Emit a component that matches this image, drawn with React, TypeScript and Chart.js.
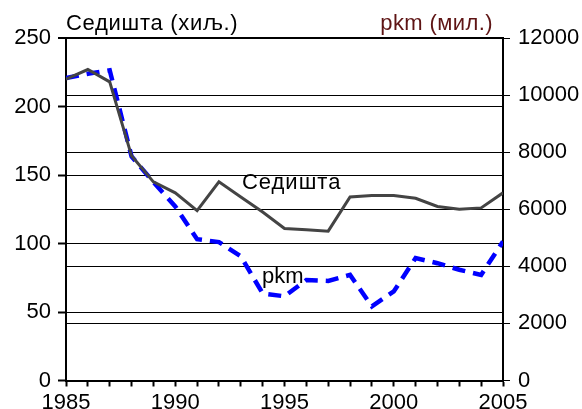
import React, { useEffect, useRef } from "react";
import { Chart, registerables } from "chart.js";

Chart.register(...registerables);

const years = [1985, 1986, 1987, 1988, 1989, 1990, 1991, 1992, 1993, 1994, 1995, 1996, 1997, 1998, 1999, 2000, 2001, 2002, 2003, 2004, 2005];
const seats = [220, 227, 218, 164, 145, 137, 124, 145, 134, 123, 111, 110, 109, 134, 135, 135, 133, 127, 125, 126, 137];
const pkm = [10600, 10750, 10870, 7850, 6950, 6100, 4950, 4850, 4350, 3050, 2950, 3520, 3490, 3700, 2600, 3120, 4290, 4110, 3880, 3700, 4870];

const leftTitle = "Седишта (хиљ.)";
const rightTitle = "pkm (мил.)";
const seatsLabel = "Седишта";
const pkmLabel = "pkm";

const FONT = "'Liberation Sans', Arial, sans-serif";

const labelsPlugin = {
  id: "customLabels",
  afterDatasetsDraw(chart: any) {
    const { ctx, chartArea, scales } = chart;
    ctx.save();
    ctx.font = `22px ${FONT}`;
    ctx.textBaseline = "alphabetic";
    // titles
    ctx.fillStyle = "#000";
    ctx.textAlign = "left";
    (ctx as any).letterSpacing = "0.7px";
    ctx.fillText(leftTitle, chartArea.left, chartArea.top - 8);
    ctx.fillStyle = "#5e1414";
    (ctx as any).letterSpacing = "0.4px";
    ctx.textAlign = "right";
    ctx.fillText(rightTitle, chartArea.right - 10, chartArea.top - 8);
    // in-chart series labels
    ctx.fillStyle = "#000";
    ctx.textAlign = "left";
    ctx.textBaseline = "middle";
    (ctx as any).letterSpacing = "1px";
    ctx.fillText(seatsLabel, scales.x.getPixelForValue(1993.05), scales.yL.getPixelForValue(144));
    (ctx as any).letterSpacing = "0px";
    ctx.textBaseline = "alphabetic";
    ctx.fillText(pkmLabel, scales.x.getPixelForValue(1993.97), scales.yR.getPixelForValue(3421));
    ctx.restore();
  },
};

export default function App() {
  const ref = useRef<HTMLCanvasElement | null>(null);
  useEffect(() => {
    document.body.style.margin = "0";
    const canvas = ref.current!;
    const chart = new Chart(canvas, {
      type: "line",
      data: {
        datasets: [
          {
            label: seatsLabel,
            data: years.map((y, i) => ({ x: y, y: seats[i] })),
            yAxisID: "yL",
            borderColor: "#444444",
            borderWidth: 3,
            pointRadius: 0,
            tension: 0,
            fill: false,
          },
          {
            label: pkmLabel,
            data: years.map((y, i) => ({ x: y, y: pkm[i] })),
            yAxisID: "yR",
            borderColor: "#0000ff",
            borderWidth: 4.5,
            borderDash: [13, 8],
            pointRadius: 0,
            tension: 0,
            fill: false,
          },
        ],
      },
      options: {
        responsive: false,
        animation: false,
        devicePixelRatio: 1,
        layout: { padding: { top: 38, left: 0, right: 0, bottom: 0 } },
        plugins: { legend: { display: false }, tooltip: { enabled: false }, title: { display: false } },
        scales: {
          x: {
            type: "linear",
            min: 1985,
            max: 2005,
            afterFit: (s: any) => { s.height = 28.5; },
            ticks: {
              stepSize: 1,
              autoSkip: false,
              maxRotation: 0,
              padding: 3,
              color: "#000",
              font: { family: FONT, size: 22 },
              callback: (v: any) => (Number(v) % 5 === 0 ? String(v) : ""),
            },
            grid: { drawOnChartArea: false, drawTicks: true, tickLength: 6, tickWidth: 2, tickColor: "#000", color: "#000" },
            border: { display: true, color: "#000", width: 2 },
          },
          yL: {
            type: "linear",
            position: "left",
            min: 0,
            max: 250,
            afterFit: (s: any) => { s.width = 66; },
            ticks: { stepSize: 50, padding: 7, color: "#000", font: { family: FONT, size: 22 }, callback: (v: any) => String(v) },
            grid: {
              color: "#000",
              lineWidth: (c: any) => (c.tick && c.tick.value === 250 ? 2 : 1),
              drawTicks: true,
              tickLength: 8,
              tickWidth: 2,
              tickColor: "#000",
            },
            border: { display: true, color: "#000", width: 2 },
          },
          yR: {
            type: "linear",
            position: "right",
            min: 0,
            max: 12000,
            afterFit: (s: any) => { s.width = 79; },
            ticks: { stepSize: 2000, padding: 8, color: "#000", font: { family: FONT, size: 22 }, callback: (v: any) => String(v) },
            grid: { color: "#000", lineWidth: 1, drawTicks: true, tickLength: 7, tickWidth: 1, tickColor: "#000" },
            border: { display: true, color: "#000", width: 2 },
          },
        },
      } as any,
      plugins: [labelsPlugin],
    });
    return () => chart.destroy();
  }, []);
  return (
    <div style={{ position: "fixed", left: 0, top: 0, width: 582, height: 409, background: "#fff" }}>
      <canvas ref={ref} width={582} height={409} style={{ width: 582, height: 409 }} />
    </div>
  );
}
